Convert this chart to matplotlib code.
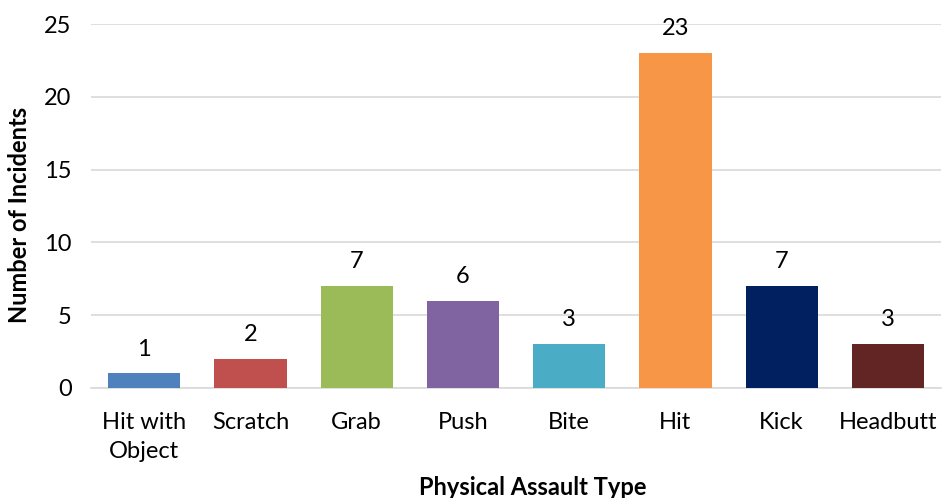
import numpy as np
import matplotlib.pyplot as plt

plt.rcParams['font.family'] = ['Lato', 'DejaVu Sans']

categories = ["Hit with\nObject", "Scratch", "Grab", "Push", "Bite", "Hit", "Kick", "Headbutt"]
counts = [1, 2, 7, 6, 3, 23, 7, 3]
colors = ["#4F81BD", "#C0504D", "#9BBB59", "#8064A2", "#4BACC6", "#F79646", "#002060", "#632523"]

fig = plt.figure(figsize=(9.42, 4.98), dpi=100)
ax = fig.add_axes([91 / 942, 0.2209, 850 / 942, 0.7309])

x = np.arange(len(categories))
ax.bar(x, counts, width=0.68, color=colors, zorder=3)
for xi, v in zip(x, counts):
    ax.annotate(str(v), (xi, v), xytext=(0, 10), textcoords="offset points",
                ha="center", va="bottom", fontsize=17)

ax.set_xlim(-0.5, len(categories) - 0.5)
ax.set_ylim(0, 25)
ax.set_yticks(range(0, 26, 5))
ax.set_xticks(x)
ax.set_xticklabels(categories, fontsize=17, linespacing=1.5)
ax.tick_params(axis="y", labelsize=17, length=0, pad=14)
ax.tick_params(axis="x", length=0, pad=17)
ax.grid(axis="y", color="#D9D9D9", linewidth=1.2, zorder=0)
for s in ["top", "right", "left"]:
    ax.spines[s].set_visible(False)
ax.spines["bottom"].set_color("#D9D9D9")
ax.spines["bottom"].set_linewidth(1.2)

fig.text(533 / 942, 1 - 487 / 498, "Physical Assault Type", fontsize=17,
         fontweight="bold", ha="center", va="center")
fig.text(20 / 942, 1 - 215 / 498, "Number of Incidents", fontsize=17,
         fontweight="bold", ha="center", va="center", rotation=90)

fig.savefig("out.png", dpi=100)
